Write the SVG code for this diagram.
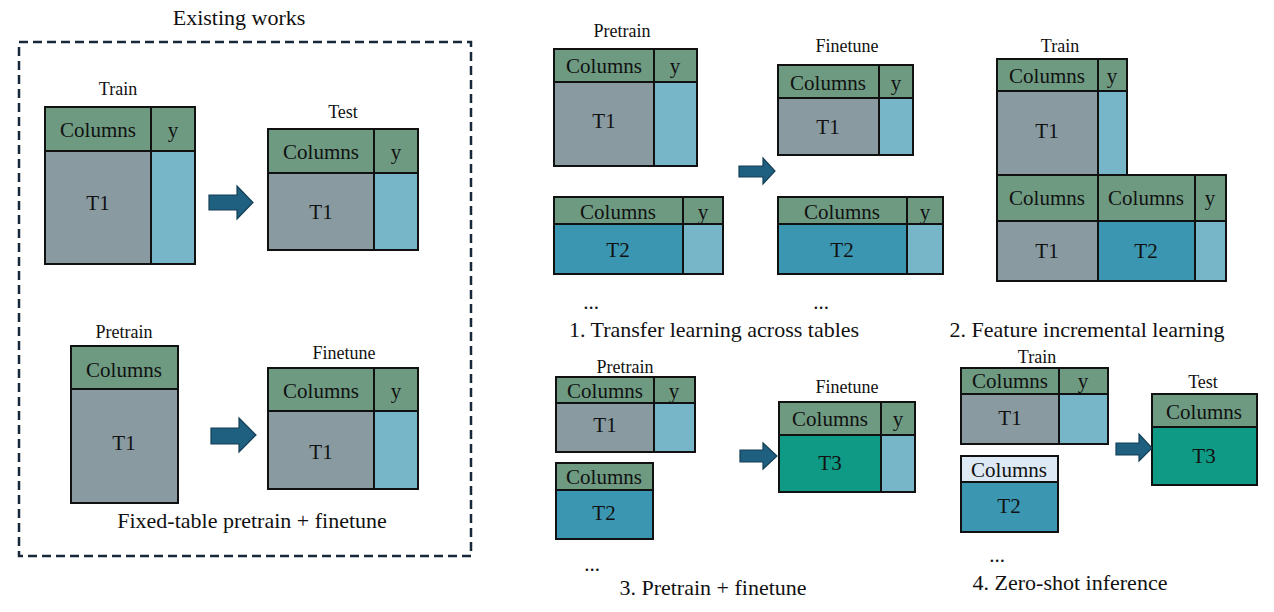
<svg xmlns="http://www.w3.org/2000/svg" width="1274" height="612" viewBox="0 0 1274 612">
<style>
text{font-family:"Liberation Serif","Times New Roman",serif;fill:#111;text-anchor:middle}
.c{font-size:21px}
.l{font-size:18px}
.cap{font-size:22px}
.cell{stroke:#111;stroke-width:2}
.hd{fill:#6e9a81}
.gr{fill:#8a9aa1}
.yb{fill:#76b6c8}
.t2{fill:#3b97b1}
.t3{fill:#0f9a86}
.lh{fill:#dde9f4}
.frame{fill:none;stroke:#16283a;stroke-width:2.5;stroke-dasharray:9,5}
.arr{fill:#1f5f80;stroke:#143f56;stroke-width:1.2}
</style>
<rect x="0" y="0" width="1274" height="612" fill="#fff"/>

<g id="existing-works">
  <text class="cap" x="239" y="25">Existing works</text>
  <rect class="frame" x="19" y="42" width="452" height="514"/>
  <text class="cap" x="252" y="528">Fixed-table pretrain + finetune</text>
</g>

<g id="ew-train">
  <text class="l" x="118" y="95">Train</text>
  <rect class="cell hd" x="45" y="107" width="106" height="44"/>
  <rect class="cell hd" x="151" y="107" width="44" height="44"/>
  <rect class="cell gr" x="45" y="151" width="106" height="113"/>
  <rect class="cell yb" x="151" y="151" width="44" height="113"/>
  <text class="c" x="98" y="137">Columns</text>
  <text class="c" x="173" y="137">y</text>
  <text class="c" x="98" y="210">T1</text>
</g>
<g id="ew-test">
  <text class="l" x="343" y="118">Test</text>
  <rect class="cell hd" x="268" y="129" width="106" height="44"/>
  <rect class="cell hd" x="374" y="129" width="44" height="44"/>
  <rect class="cell gr" x="268" y="173" width="106" height="77"/>
  <rect class="cell yb" x="374" y="173" width="44" height="77"/>
  <text class="c" x="321" y="159">Columns</text>
  <text class="c" x="396" y="159">y</text>
  <text class="c" x="321" y="219">T1</text>
</g>
<g id="ew-pretrain">
  <text class="l" x="124" y="338">Pretrain</text>
  <rect class="cell hd" x="71" y="346" width="107" height="43"/>
  <rect class="cell gr" x="71" y="389" width="107" height="114"/>
  <text class="c" x="124" y="377">Columns</text>
  <text class="c" x="124" y="450">T1</text>
</g>
<g id="ew-finetune">
  <text class="l" x="344" y="359">Finetune</text>
  <rect class="cell hd" x="268" y="368" width="106" height="43"/>
  <rect class="cell hd" x="374" y="368" width="44" height="43"/>
  <rect class="cell gr" x="268" y="411" width="106" height="78"/>
  <rect class="cell yb" x="374" y="411" width="44" height="78"/>
  <text class="c" x="321" y="398">Columns</text>
  <text class="c" x="396" y="398">y</text>
  <text class="c" x="321" y="459">T1</text>
</g>

<g id="s1-pretrain-t1">
  <text class="l" x="622" y="37">Pretrain</text>
  <rect class="cell hd" x="554" y="49" width="100" height="33"/>
  <rect class="cell hd" x="654" y="49" width="43" height="33"/>
  <rect class="cell gr" x="554" y="82" width="100" height="84"/>
  <rect class="cell yb" x="654" y="82" width="43" height="84"/>
  <text class="c" x="604" y="73">Columns</text>
  <text class="c" x="675" y="73">y</text>
  <text class="c" x="604" y="128">T1</text>
</g>
<g id="s1-pretrain-t2">
  <rect class="cell hd" x="554" y="197" width="129" height="27"/>
  <rect class="cell hd" x="683" y="197" width="40" height="27"/>
  <rect class="cell t2" x="554" y="224" width="129" height="50"/>
  <rect class="cell yb" x="683" y="224" width="40" height="50"/>
  <text class="c" x="618" y="219">Columns</text>
  <text class="c" x="703" y="219">y</text>
  <text class="c" x="618" y="257">T2</text>
</g>
<g id="s1-finetune-t1">
  <text class="l" x="847" y="52">Finetune</text>
  <rect class="cell hd" x="778" y="65" width="101" height="33"/>
  <rect class="cell hd" x="879" y="65" width="34" height="33"/>
  <rect class="cell gr" x="778" y="98" width="101" height="57"/>
  <rect class="cell yb" x="879" y="98" width="34" height="57"/>
  <text class="c" x="828" y="90">Columns</text>
  <text class="c" x="896" y="90">y</text>
  <text class="c" x="828" y="134">T1</text>
</g>
<g id="s1-finetune-t2">
  <rect class="cell hd" x="778" y="197" width="129" height="27"/>
  <rect class="cell hd" x="907" y="197" width="36" height="27"/>
  <rect class="cell t2" x="778" y="224" width="129" height="50"/>
  <rect class="cell yb" x="907" y="224" width="36" height="50"/>
  <text class="c" x="842" y="219">Columns</text>
  <text class="c" x="925" y="219">y</text>
  <text class="c" x="842" y="257">T2</text>
</g>
<g id="s1-labels">
  <text class="c" x="591" y="309">...</text>
  <text class="c" x="821" y="309">...</text>
  <text class="cap" x="714" y="337">1. Transfer learning across tables</text>
</g>

<g id="s2-train-t1">
  <text class="l" x="1060" y="52">Train</text>
  <rect class="cell hd" x="997" y="59" width="101" height="32"/>
  <rect class="cell hd" x="1098" y="59" width="29" height="32"/>
  <rect class="cell gr" x="997" y="91" width="101" height="84"/>
  <rect class="cell yb" x="1098" y="91" width="29" height="84"/>
  <text class="c" x="1047" y="83">Columns</text>
  <text class="c" x="1112" y="83">y</text>
  <text class="c" x="1047" y="138">T1</text>
</g>
<g id="s2-train-t1t2">
  <rect class="cell hd" x="997" y="175" width="101" height="46"/>
  <rect class="cell hd" x="1098" y="175" width="97" height="46"/>
  <rect class="cell hd" x="1195" y="175" width="31" height="46"/>
  <rect class="cell gr" x="997" y="221" width="101" height="60"/>
  <rect class="cell t2" x="1098" y="221" width="97" height="60"/>
  <rect class="cell yb" x="1195" y="221" width="31" height="60"/>
  <text class="c" x="1047" y="205">Columns</text>
  <text class="c" x="1146" y="205">Columns</text>
  <text class="c" x="1210" y="205">y</text>
  <text class="c" x="1047" y="258">T1</text>
  <text class="c" x="1146" y="258">T2</text>
</g>
<g id="s2-labels">
  <text class="cap" x="1087" y="337">2. Feature incremental learning</text>
</g>

<g id="s3-pretrain-t1">
  <text class="l" x="625" y="373">Pretrain</text>
  <rect class="cell hd" x="556" y="377" width="98" height="26"/>
  <rect class="cell hd" x="654" y="377" width="41" height="26"/>
  <rect class="cell gr" x="556" y="403" width="98" height="49"/>
  <rect class="cell yb" x="654" y="403" width="41" height="49"/>
  <text class="c" x="605" y="398">Columns</text>
  <text class="c" x="674" y="398">y</text>
  <text class="c" x="605" y="432">T1</text>
</g>
<g id="s3-pretrain-t2">
  <rect class="cell hd" x="556" y="463" width="97" height="27"/>
  <rect class="cell t2" x="556" y="490" width="97" height="49"/>
  <text class="c" x="604" y="484">Columns</text>
  <text class="c" x="604" y="520">T2</text>
</g>
<g id="s3-finetune-t3">
  <text class="l" x="847" y="393">Finetune</text>
  <rect class="cell hd" x="779" y="402" width="102" height="33"/>
  <rect class="cell hd" x="881" y="402" width="34" height="33"/>
  <rect class="cell t3" x="779" y="435" width="102" height="57"/>
  <rect class="cell yb" x="881" y="435" width="34" height="57"/>
  <text class="c" x="830" y="426">Columns</text>
  <text class="c" x="898" y="426">y</text>
  <text class="c" x="830" y="470">T3</text>
</g>
<g id="s3-labels">
  <text class="c" x="592" y="571">...</text>
  <text class="cap" x="713" y="595">3. Pretrain + finetune</text>
</g>

<g id="s4-train-t1">
  <text class="l" x="1037" y="363">Train</text>
  <rect class="cell hd" x="961" y="368" width="98" height="26"/>
  <rect class="cell hd" x="1059" y="368" width="49" height="26"/>
  <rect class="cell gr" x="961" y="394" width="98" height="50"/>
  <rect class="cell yb" x="1059" y="394" width="49" height="50"/>
  <text class="c" x="1010" y="388">Columns</text>
  <text class="c" x="1083" y="388">y</text>
  <text class="c" x="1010" y="425">T1</text>
</g>
<g id="s4-train-t2">
  <rect class="cell lh" x="961" y="456" width="97" height="26"/>
  <rect class="cell t2" x="961" y="482" width="97" height="50"/>
  <text class="c" x="1009" y="477">Columns</text>
  <text class="c" x="1009" y="513">T2</text>
</g>
<g id="s4-test-t3">
  <text class="l" x="1203" y="388">Test</text>
  <rect class="cell hd" x="1152" y="394" width="105" height="33"/>
  <rect class="cell t3" x="1152" y="427" width="105" height="58"/>
  <text class="c" x="1204" y="419">Columns</text>
  <text class="c" x="1204" y="463">T3</text>
</g>
<g id="s4-labels">
  <text class="c" x="997" y="562">...</text>
  <text class="cap" x="1070" y="590">4. Zero-shot inference</text>
</g>

<g id="connectors">
  <polygon class="arr" points="209,195 237,195 237,186 253,202.5 237,219 237,210 209,210"/>
  <polygon class="arr" points="211,428 239,428 239,418 256,435 239,452 239,444 211,444"/>
  <polygon class="arr" points="739,166 763,166 763,158 775,171 763,184 763,177 739,177"/>
  <polygon class="arr" points="740,450 763,450 763,443 777,456 763,469 763,462 740,462"/>
  <polygon class="arr" points="1116,443 1139,443 1139,434 1152,448 1139,461 1139,455 1116,455"/>
</g>
</svg>
